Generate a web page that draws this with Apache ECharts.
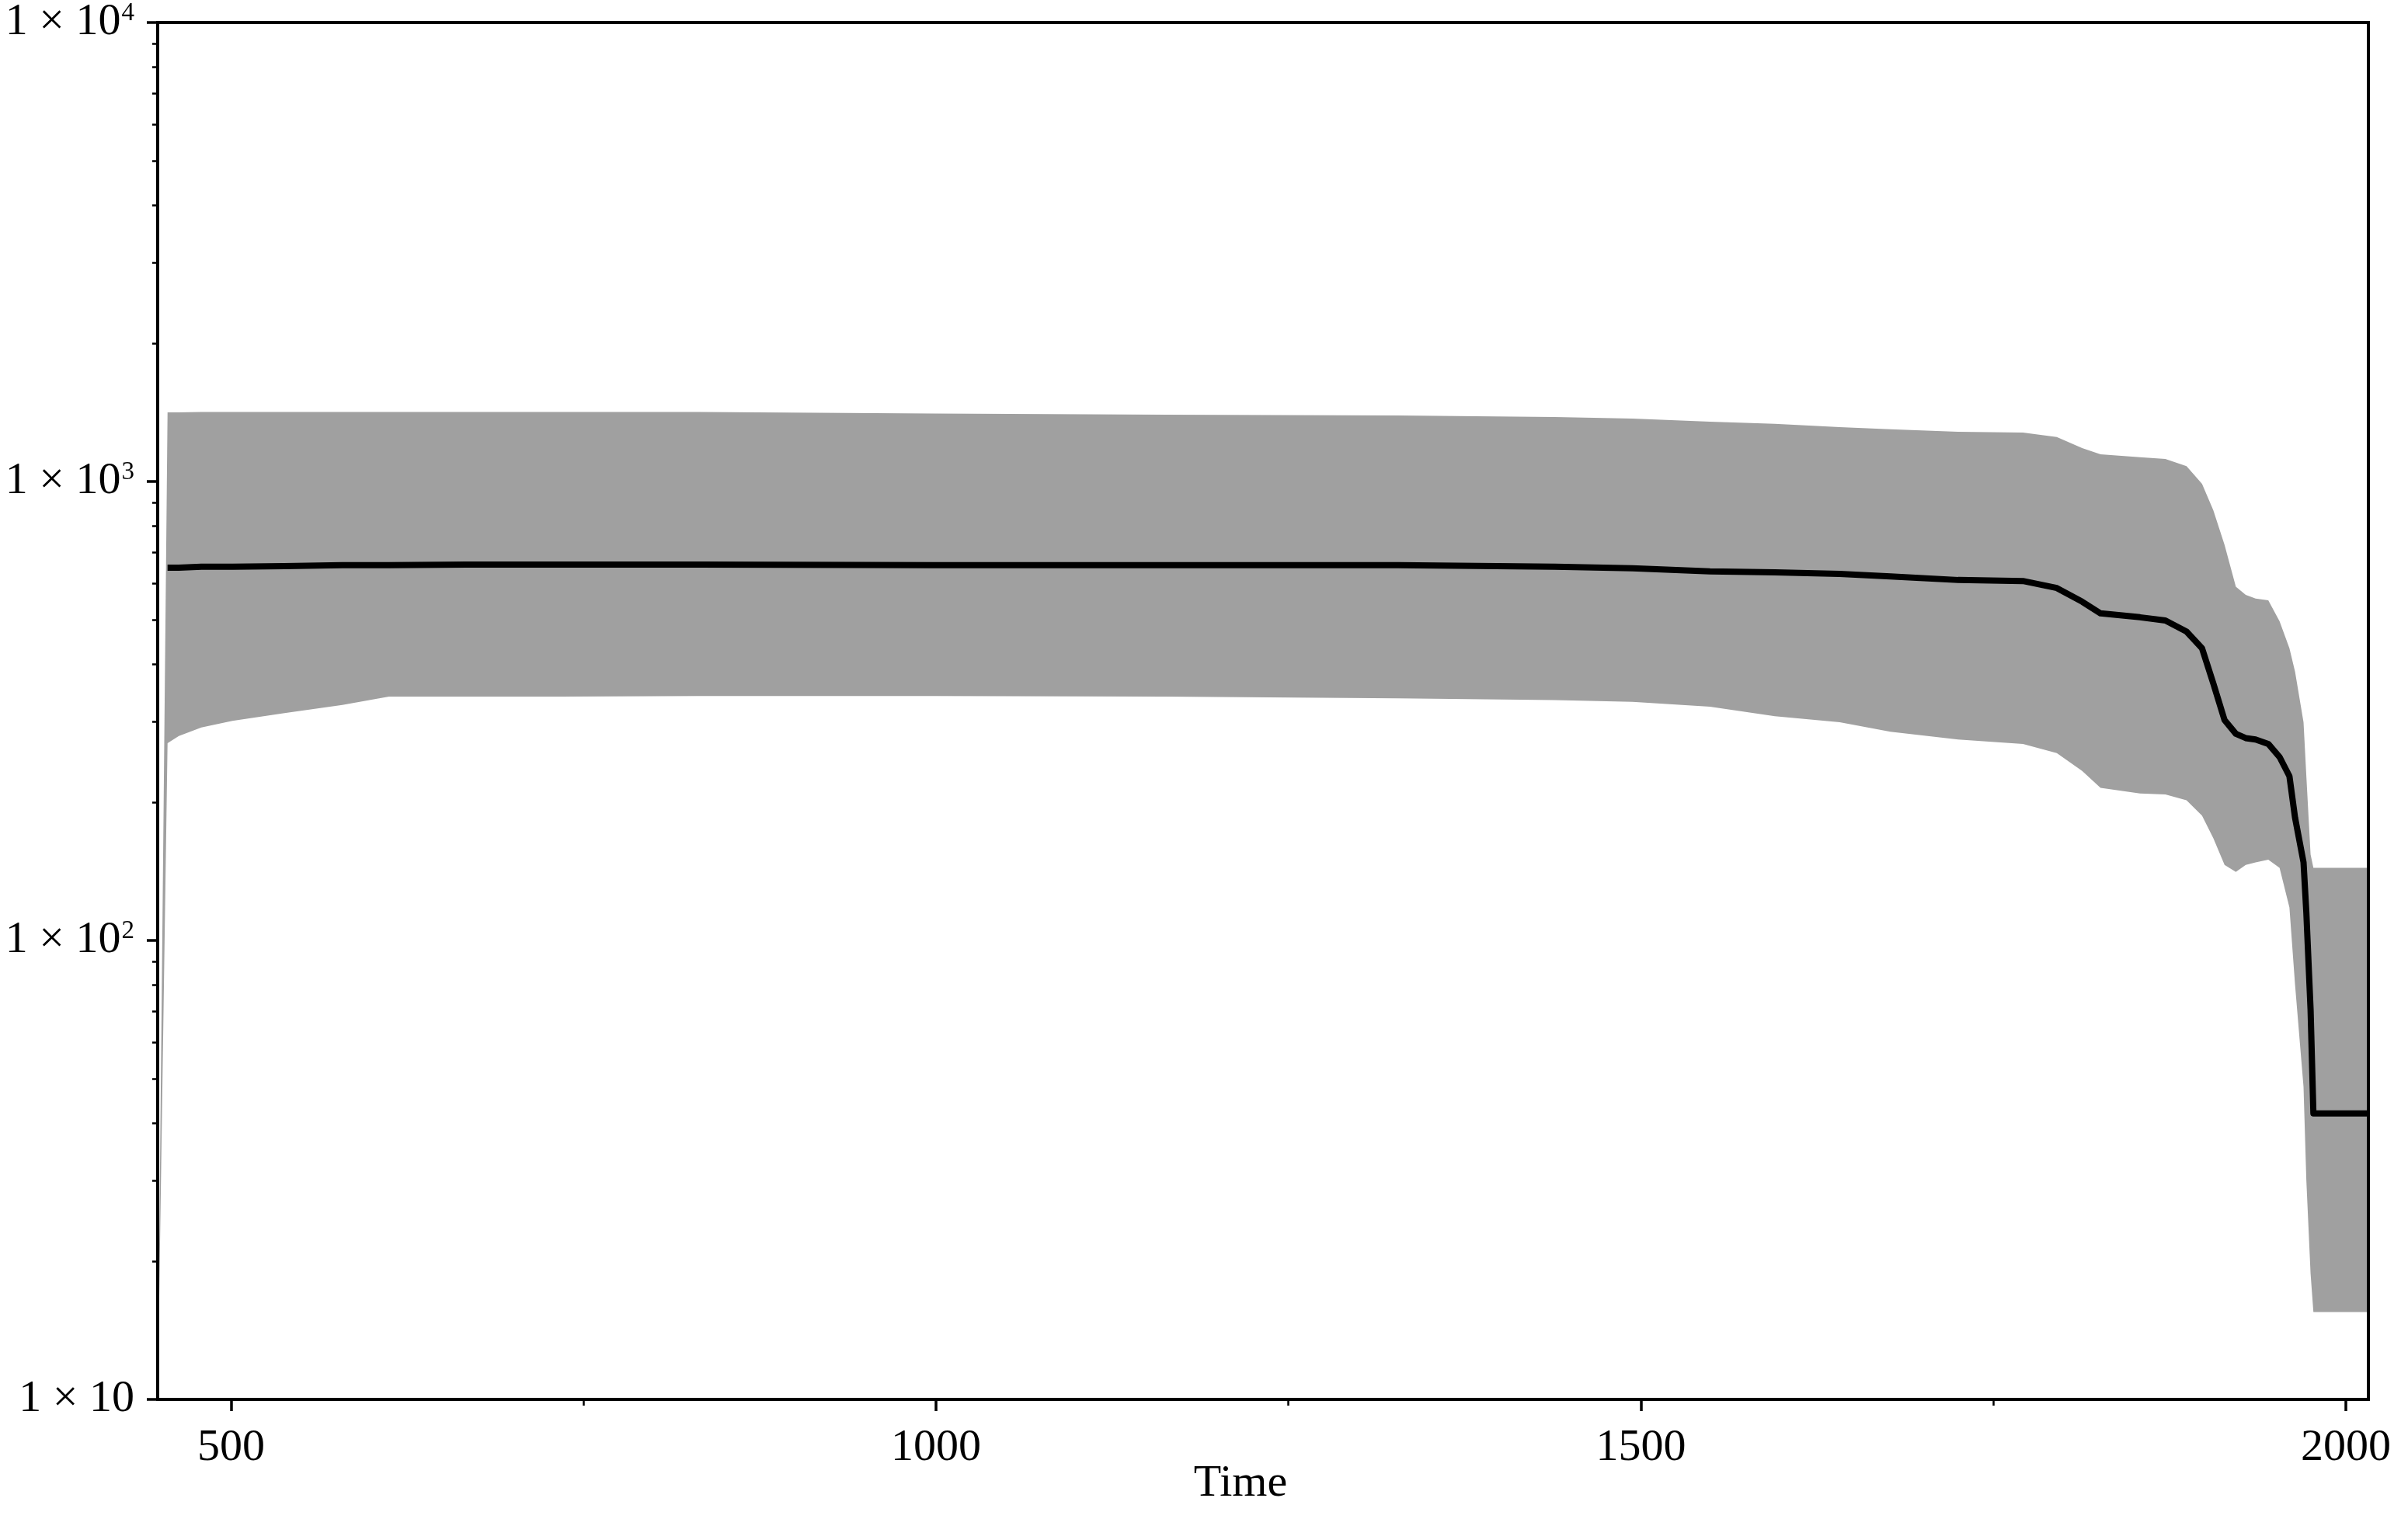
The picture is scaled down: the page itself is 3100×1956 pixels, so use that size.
<!DOCTYPE html>
<html>
<head>
<meta charset="utf-8">
<script src="https://cdn.jsdelivr.net/npm/echarts@6/dist/echarts.min.js"></script>
<style>
  html, body { margin: 0; padding: 0; background: #fff; }
  #chart { width: 3100px; height: 1956px; }
</style>
</head>
<body>
<div id="chart"></div>
<script>
// years
const years = [448, 455, 463, 479, 501, 538, 579, 612, 667, 733,
  832, 998, 1163, 1328, 1439, 1494, 1549, 1595, 1641, 1677,
  1725, 1771, 1795, 1813, 1826, 1854, 1872, 1887, 1898, 1906,
  1914, 1922, 1929, 1936, 1945, 1953, 1960, 1964, 1970, 1972,
  1975, 1977, 2016];
// upper / lower edge of the grey band, and the median line
const upper = [10, 1414, 1414, 1417, 1417, 1417, 1417, 1417, 1417, 1417,
  1417, 1406, 1398, 1393, 1382, 1371, 1350, 1335, 1314, 1299,
  1283, 1278, 1250, 1182, 1146, 1129, 1120, 1080, 988, 866,
  727, 590, 566, 556, 551, 496, 433, 385, 299, 228,
  154, 144, 144];
const lower = [10, 269, 279, 291, 301, 313, 326, 340, 340, 340,
  341, 341, 340, 337, 334, 331, 323, 308, 299, 285,
  274, 268, 256, 234, 215, 209, 208, 202, 187, 167,
  146, 141, 146, 148, 150, 144, 118, 80, 48, 30,
  18.8, 15.5, 15.5];
const median = [null, 649, 649, 652, 652, 654, 657, 657, 659, 659,
  659, 657, 657, 657, 652, 647, 637, 634, 629, 621,
  610, 607, 586, 547, 516, 506, 498, 471, 433, 363,
  302, 282, 276, 274, 268, 251, 228, 185, 148, 115,
  70.7, 42, 42];

// ticks
const xMajorTicks = [500, 1000, 1500, 2000];
const xMinorTicks = [750, 1250, 1750];
const yMinorTicks = [20, 30, 40, 50, 60, 70, 80, 90,
  200, 300, 400, 500, 600, 700, 800, 900,
  2000, 3000, 4000, 5000, 6000, 7000, 8000, 9000];

const font = 'Liberation Serif';
const bandData = years.map((t, i) => [t, lower[i], upper[i]]);
const medianData = years.map((t, i) => [t, median[i]]).filter(d => d[1] != null);

/**
 * 灰色区间：只在第一个数据项上画一个多边形，
 * 上沿从左到右，下沿从右到左
 */
function renderBand(params, api) {
  if (params.dataIndexInside !== 0) return;
  let n = params.dataInsideLength;
  let top = [];
  let bottom = [];
  for (let i = 0; i < n; i++) {
    let t = api.value(0, i);
    top.push(api.coord([t, api.value(2, i)]));
    bottom.push(api.coord([t, api.value(1, i)]));
  }
  return {
    type: 'polygon',
    shape: { points: top.concat(bottom.reverse()) },
    style: { fill: '#a0a0a0' }
  };
}

let chart = echarts.init(document.getElementById('chart'));
let option = {
  backgroundColor: '#fff',
  animation: false,
  grid: {
    left: 203, right: 51, top: 29, bottom: 154,
    show: true, borderColor: '#000', borderWidth: 4,
    backgroundColor: 'transparent', z: 10,
    outerBoundsMode: 'none'
  },
  xAxis: [{
    type: 'value', min: 448, max: 2016, position: 'bottom', z: 10,
    name: 'Time', nameLocation: 'middle', nameGap: 80, nameMoveOverlap: false,
    nameTextStyle: { fontFamily: font, fontSize: 58, color: '#000', padding: [0, 58, 0, 0] },
    axisLine: { show: false },
    axisTick: { show: true, length: 15, customValues: xMajorTicks, lineStyle: { color: '#000', width: 3.5 } },
    axisLabel: {
      show: true, customValues: xMajorTicks, margin: 34,
      fontFamily: font, fontSize: 58, color: '#000',
      formatter: v => String(v)
    },
    splitLine: { show: false }
  }, {
    type: 'value', min: 448, max: 2016, position: 'bottom', z: 10,
    axisLine: { show: false },
    axisTick: { show: true, length: 8, customValues: xMinorTicks, lineStyle: { color: '#000', width: 2.5 } },
    axisLabel: { show: false },
    splitLine: { show: false }
  }],
  yAxis: [{
    type: 'log', logBase: 10, min: 10, max: 10000, position: 'left', z: 10,
    axisLine: { show: false },
    axisTick: { show: true, length: 14, lineStyle: { color: '#000', width: 3.5 } },
    axisLabel: {
      margin: 30, fontFamily: font, fontSize: 58, color: '#000',
      formatter: function (v) {
        let e = Math.round(Math.log10(v));
        return e === 1 ? '1 × 10' : '1 × 10{s|' + e + '}';
      },
      rich: { s: { fontFamily: font, fontSize: 33, color: '#000', padding: [0, 0, 24, 1] } }
    },
    splitLine: { show: false }
  }, {
    type: 'log', logBase: 10, min: 10, max: 10000, position: 'left', z: 10,
    axisLine: { show: false },
    axisTick: { show: true, length: 7, customValues: yMinorTicks, lineStyle: { color: '#000', width: 2.5 } },
    axisLabel: { show: false },
    splitLine: { show: false }
  }],
  series: [{
    name: 'band', type: 'custom', data: bandData,
    encode: { x: 0, y: [1, 2] },
    renderItem: renderBand, clip: true, silent: true, z: 2
  }, {
    name: 'median', type: 'line', data: medianData, z: 4,
    symbol: 'none', lineStyle: { color: '#000', width: 8, join: 'round', cap: 'butt' }, silent: true
  }]
};
chart.setOption(option);
window.onresize = () => { chart.resize(); };
</script>
</body>
</html>
